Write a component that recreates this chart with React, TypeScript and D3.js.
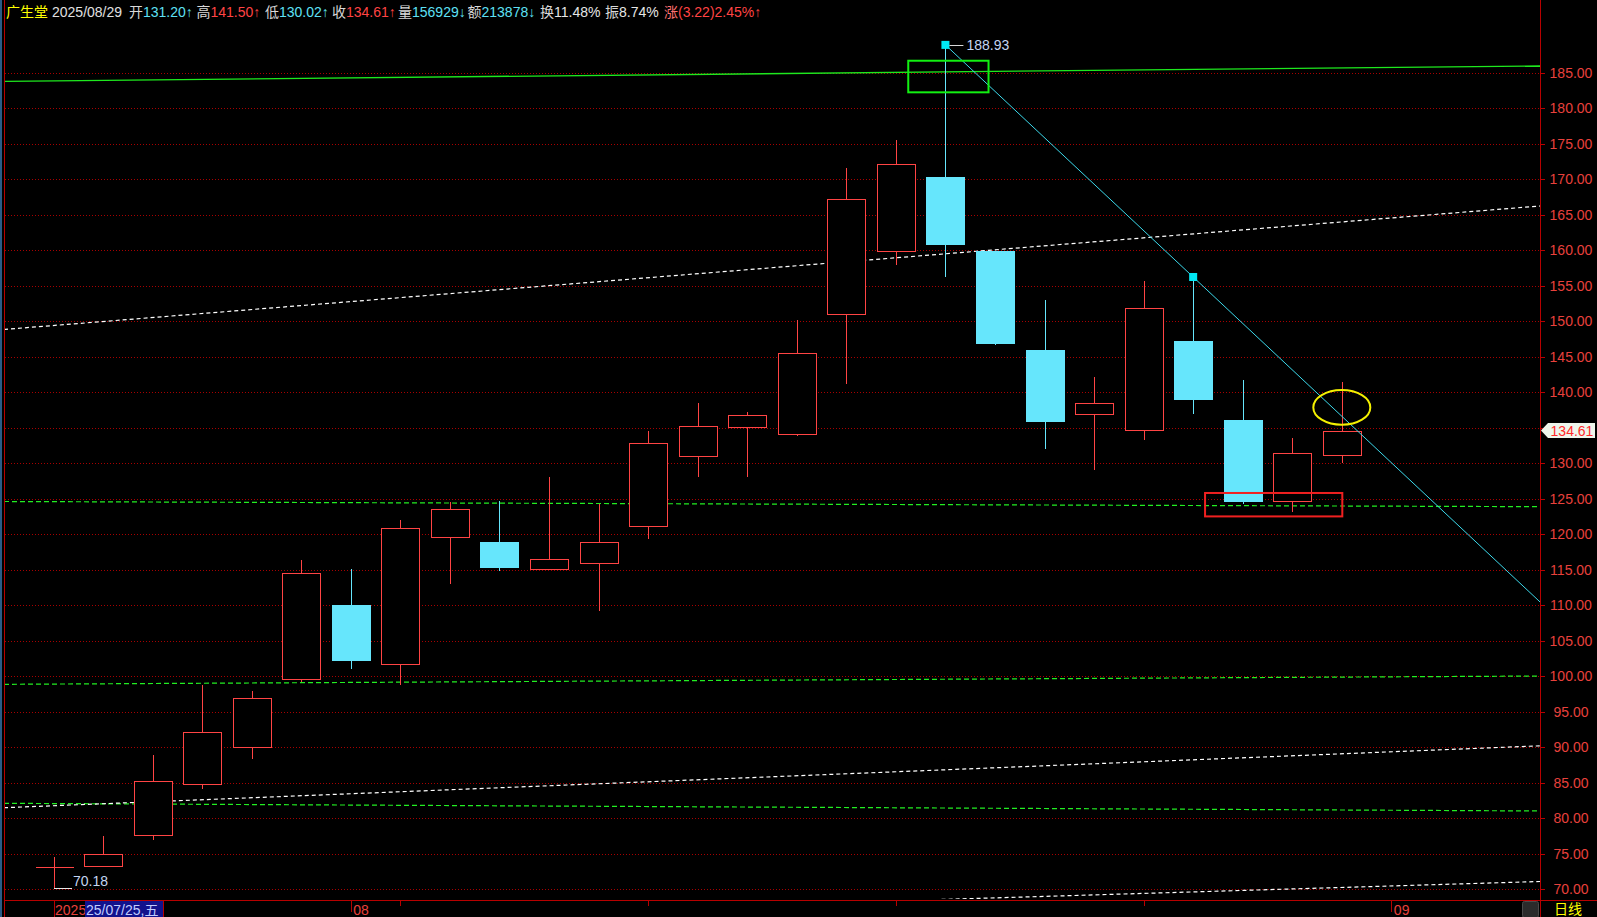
import React, { useEffect } from 'react';
import * as d3 from 'd3';

// ---- daily bars, 2025/07/24 .. 2025/08/29 ----
const dates = [
  '2025/07/24', '2025/07/25', '2025/07/28', '2025/07/29', '2025/07/30', '2025/07/31',
  '2025/08/01', '2025/08/04', '2025/08/05', '2025/08/06', '2025/08/07', '2025/08/08',
  '2025/08/11', '2025/08/12', '2025/08/13', '2025/08/14', '2025/08/15',
  '2025/08/18', '2025/08/19', '2025/08/20', '2025/08/21', '2025/08/22',
  '2025/08/25', '2025/08/26', '2025/08/27', '2025/08/28', '2025/08/29',
];
const opens = [
  73.1, 73.24, 77.61, 84.79, 90.08, 99.58,
  110.04, 101.69, 119.58, 118.92, 115.07, 116.0,
  121.13, 130.99, 135.07, 134.08, 150.99,
  159.86, 170.32, 159.9, 145.96, 136.99,
  134.65, 147.2, 136.15, 124.68, 131.2,
];
const highs = [
  74.55, 77.51, 88.92, 98.77, 97.93, 116.38,
  115.11, 122.01, 124.51, 124.69, 128.07, 124.23,
  134.55, 138.45, 137.18, 150.18, 171.59,
  175.54, 188.93, 159.9, 153.0, 142.15,
  155.68, 156.24, 141.75, 133.56, 141.5,
];
const lows = [
  70.18, 73.1, 76.99, 84.08, 88.39, 99.2,
  101.03, 98.77, 113.04, 114.87, 115.07, 109.24,
  119.38, 128.11, 128.11, 133.89, 141.13,
  157.97, 156.28, 146.7, 132.01, 129.06,
  133.28, 137.01, 124.27, 123.1, 130.02,
];
const closes = [
  73.1, 74.93, 85.21, 92.11, 96.9, 114.51,
  102.3, 120.85, 123.52, 115.39, 116.48, 118.87,
  132.82, 135.21, 136.76, 145.49, 167.18,
  172.11, 160.93, 146.99, 135.96, 138.49,
  151.83, 139.01, 124.68, 131.39, 134.61,
];

const stockName = '广生堂';
const lastVolume = 156929;
const lastAmount = 213878;
const lastTurnover = 11.48;

// price axis labels
const yTickValues = [70, 75, 80, 85, 90, 95, 100, 105, 110, 115, 120, 125, 130, 135, 140, 145, 150, 155, 160, 165, 170, 175, 180, 185];

// time axis: weekly ticks (bar index) and month labels
const weekTickIndex = [7, 12, 17, 22, 27];
const monthTickIndex = [6, 27];
const monthTickLabel = ['08', '09'];

// drawn lines, endpoints as [bar index, price]
const greenSolidLine = [[-1, 183.8], [30, 185.96]];
const greenDashedLines = [
  [[-1, 124.62], [30, 123.89]],
  [[-1, 98.87], [30, 100.04]],
  [[-1, 82.11], [30, 81.03]],
];
const whiteDashedLines = [
  [[-1, 148.85], [30, 166.24]],
  [[-1, 81.49], [30, 90.21]],
  [[-1, 64.6], [30, 71.1]],
];
// downtrend line through two swing highs
const trendAnchors = [[18, 188.93], [23, 156.24]];
// marked zones: [index0, price0, index1, price1]
const greenBox = [17.25, 186.7, 18.87, 182.25];
const redBox = [23.24, 125.82, 26.01, 122.52];
const yellowRing = [26, 137.87];

const W = 1597;
const H = 917;
const LEFT = 4;
const RIGHT = 1540;
const BOTTOM = 900;

const RED = '#ff4444';
const CYAN = '#66e6fc';
const GRID = '#a80000';
const AXIS = '#b80000';
const LABEL_RED = '#e8413c';
const FONT = "'Liberation Sans', Arial, 'Noto Sans CJK SC', sans-serif";
const CJK = "'Noto Sans CJK SC', 'Liberation Sans', sans-serif";

const x = d3.scaleLinear().domain([-1, 30]).range([LEFT, RIGHT]);
const y = d3.scaleLinear().domain([70, 185]).range([889.3, 72.8]);
const step = x(1) - x(0);
const bodyW = Math.round(step * 0.775);

const px = (v: number) => Math.round(v) + 0.5;
const f2 = (v: number) => v.toFixed(2);

export default function App() {
  useEffect(() => {
    document.body.style.margin = '0';
    document.body.style.background = '#000';
  }, []);

  const n = closes.length;
  const last = n - 1;
  const prevClose = closes[last - 1];
  const o = opens[last], h = highs[last], l = lows[last], c = closes[last];
  const chg = c - prevClose;
  const pct = (chg / prevClose) * 100;
  const amp = ((h - l) / prevClose) * 100;
  const vsPrev = (v: number) => (v >= prevClose ? RED : '#5ee0f5');
  const arrow = (a: number, b: number) => (a >= b ? '↑' : '↓');
  const LBL = '#d8d8d8';

  const header = [
    { parts: [{ t: stockName, c: '#ffff00' }] },
    { parts: [{ t: dates[last], c: '#e0e0e0' }] },
    { parts: [{ t: '开', c: LBL }, { t: f2(o) + arrow(o, opens[last - 1]), c: vsPrev(o) }] },
    { parts: [{ t: '高', c: LBL }, { t: f2(h) + arrow(h, highs[last - 1]), c: vsPrev(h) }] },
    { parts: [{ t: '低', c: LBL }, { t: f2(l) + arrow(l, lows[last - 1]), c: vsPrev(l) }] },
    { parts: [{ t: '收', c: LBL }, { t: f2(c) + arrow(c, prevClose), c: vsPrev(c) }] },
    { parts: [{ t: '量', c: LBL }, { t: lastVolume + '↓', c: '#5ee0f5' }] },
    { parts: [{ t: '额', c: LBL }, { t: lastAmount + '↓', c: '#5ee0f5' }] },
    { parts: [{ t: '换', c: LBL }, { t: lastTurnover.toFixed(2) + '%', c: '#e6e6e6' }] },
    { parts: [{ t: '振', c: LBL }, { t: amp.toFixed(2) + '%', c: '#e6e6e6' }] },
    { parts: [{ t: '涨', c: '#ff7070' }, { t: '(' + f2(chg) + ')' + pct.toFixed(2) + '%↑', c: RED }] },
  ];
  const headerX = [6, 52, 129, 196.5, 265, 332, 398, 467.5, 540, 605, 664];

  const lineOf = (seg: number[][]) => ({ x1: x(seg[0][0]), y1: y(seg[0][1]), x2: x(seg[1][0]), y2: y(seg[1][1]) });

  // trend line extended to the right edge of the plot
  const [ta, tb] = trendAnchors;
  const slope = (tb[1] - ta[1]) / (tb[0] - ta[0]);
  const endIdx = x.invert(RIGHT);
  const trendEnd = [endIdx, ta[1] + slope * (endIdx - ta[0])];

  const cursorIdx = 1;
  const cd = dates[cursorIdx].split('/');
  const wd = '日一二三四五六'[new Date(+cd[0], +cd[1] - 1, +cd[2]).getDay()];
  const cursorText = cd[0].slice(2) + '/' + cd[1] + '/' + cd[2] + ',' + wd;

  const yCur = y(c);

  return (
    <svg width={W} height={H} style={{ display: 'block', background: '#000' }} fontFamily={FONT}>
      <defs>
        <clipPath id="plot">
          <rect x={LEFT + 1} y={0} width={RIGHT - LEFT - 1} height={BOTTOM - 1} />
        </clipPath>
      </defs>
      <rect x={0} y={0} width={W} height={H} fill="#000" />
      <rect x={0} y={0} width={2} height={H} fill="#2a5a86" />

      {/* horizontal grid */}
      <g shapeRendering="crispEdges">
        {yTickValues.map((v) => (
          <line key={v} x1={LEFT + 1} x2={RIGHT} y1={px(y(v))} y2={px(y(v))} stroke={GRID} strokeDasharray="1,2" />
        ))}
      </g>

      <g clipPath="url(#plot)">
        {/* channel lines */}
        <line {...lineOf(greenSolidLine)} stroke="#1ee81e" strokeWidth={1.3} />
        {greenDashedLines.map((s, i) => (
          <line key={'g' + i} {...lineOf(s)} stroke="#22ee22" strokeWidth={1.2} strokeDasharray="5,3" />
        ))}
        {whiteDashedLines.map((s, i) => (
          <line key={'w' + i} {...lineOf(s)} stroke="#ffffff" strokeWidth={1.2} strokeDasharray="4,3" />
        ))}

        {/* candles */}
        <g shapeRendering="crispEdges">
          {closes.map((cl, i) => {
            const op = opens[i];
            const cx = px(x(i));
            const left = Math.round(x(i) - bodyW / 2) + 0.5;
            const top = Math.round(y(Math.max(op, cl))) + 0.5;
            const bot = Math.round(y(Math.min(op, cl))) + 0.5;
            const yh = y(highs[i]);
            const yl = y(lows[i]);
            if (cl === op) {
              return (
                <g key={i} stroke={RED}>
                  <line x1={cx} x2={cx} y1={yh} y2={yl} />
                  <line x1={left} x2={left + bodyW} y1={top} y2={top} />
                </g>
              );
            }
            if (cl > op) {
              return (
                <g key={i} stroke={RED}>
                  {yh < top && <line x1={cx} x2={cx} y1={yh} y2={top} />}
                  {yl > bot && <line x1={cx} x2={cx} y1={bot} y2={yl} />}
                  <rect x={left} y={top} width={bodyW} height={Math.max(1, bot - top)} fill="#000" />
                </g>
              );
            }
            return (
              <g key={i}>
                <line x1={cx} x2={cx} y1={yh} y2={yl} stroke={CYAN} />
                <rect x={left - 0.5} y={top - 0.5} width={bodyW + 1} height={Math.max(1, bot - top + 1)} fill={CYAN} />
              </g>
            );
          })}
        </g>

        {/* trend line and swing-high markers */}
        <line x1={x(ta[0])} y1={y(ta[1])} x2={x(trendEnd[0])} y2={y(trendEnd[1])} stroke="#3cd8ea" strokeWidth={1} />
        {trendAnchors.map((p, i) => (
          <rect key={'m' + i} x={x(p[0]) - 4} y={y(p[1]) - 4} width={8} height={8} fill="#00e8f4" />
        ))}

        {/* extreme price labels */}
        <line x1={x(18) + 4} x2={x(18) + 18} y1={px(y(highs[18]))} y2={px(y(highs[18]))} stroke="#d8d8d8" />
        <text x={x(18) + 21} y={y(highs[18]) + 5.5} fill="#c4d6f2" fontSize={14}>{f2(highs[18])}</text>
        <line x1={x(0)} x2={x(0) + 18} y1={px(y(lows[0]))} y2={px(y(lows[0]))} stroke="#e8e8e8" shapeRendering="crispEdges" />
        <text x={x(0) + 19.5} y={y(lows[0]) - 2.5} fill="#c4d6f2" fontSize={14}>{f2(lows[0])}</text>

        {/* marked zones */}
        <rect
          x={x(greenBox[0])} y={y(greenBox[1])}
          width={x(greenBox[2]) - x(greenBox[0])} height={y(greenBox[3]) - y(greenBox[1])}
          fill="none" stroke="#12f012" strokeWidth={2}
        />
        <rect
          x={x(redBox[0])} y={y(redBox[1])}
          width={x(redBox[2]) - x(redBox[0])} height={y(redBox[3]) - y(redBox[1])}
          fill="none" stroke="#f02020" strokeWidth={2}
        />
        <ellipse cx={x(yellowRing[0])} cy={y(yellowRing[1])} rx={28.5} ry={17.3} fill="none" stroke="#f4f000" strokeWidth={2} />
      </g>

      {/* frame */}
      <g shapeRendering="crispEdges" stroke={AXIS}>
        <line x1={LEFT + 0.5} x2={LEFT + 0.5} y1={0} y2={H} />
        <line x1={RIGHT + 0.5} x2={RIGHT + 0.5} y1={0} y2={H} />
        <line x1={LEFT} x2={W} y1={BOTTOM + 0.5} y2={BOTTOM + 0.5} />
      </g>

      {/* price axis */}
      <g>
        {yTickValues.map((v) => {
          const yy = px(y(v));
          const hidden = Math.abs(y(v) - yCur) < 13;
          return (
            <g key={v}>
              <line x1={RIGHT} x2={RIGHT + 5} y1={yy} y2={yy} stroke={AXIS} shapeRendering="crispEdges" />
              {!hidden && (
                <text x={1571} y={y(v) + 5} textAnchor="middle" fill={LABEL_RED} fontSize={14}>{f2(v)}</text>
              )}
            </g>
          );
        })}
        <path
          d={`M${RIGHT + 1},${yCur} L${RIGHT + 8},${yCur - 7.5} L${W - 2},${yCur - 7.5} L${W - 2},${yCur + 7.5} L${RIGHT + 8},${yCur + 7.5} Z`}
          fill="#eef6ec"
        />
        <text x={1572} y={yCur + 5} textAnchor="middle" fill="#ff2a2a" fontSize={14}>{f2(c)}</text>
      </g>

      {/* time axis */}
      <g shapeRendering="crispEdges" stroke={AXIS}>
        {weekTickIndex.map((i) => (
          <line key={'wt' + i} x1={px(x(i))} x2={px(x(i))} y1={BOTTOM} y2={BOTTOM + 6} />
        ))}
        {monthTickIndex.map((i) => (
          <line key={'mt' + i} x1={px(x(i))} x2={px(x(i))} y1={BOTTOM} y2={BOTTOM + 12} />
        ))}
        <line x1={px(x(0))} x2={px(x(0))} y1={BOTTOM} y2={H} />
      </g>
      {monthTickIndex.map((i, k) => (
        <text key={'ml' + i} x={x(i) + 2.5} y={BOTTOM + 14.5} fill={LABEL_RED} fontSize={14}>{monthTickLabel[k]}</text>
      ))}
      <text x={x(0) + 1.5} y={BOTTOM + 14.5} fill={LABEL_RED} fontSize={14}>{dates[0].slice(0, 4)}</text>
      <rect x={85} y={BOTTOM + 1} width={78} height={H - BOTTOM - 1} fill="#12128c" />
      <line x1={163.5} x2={163.5} y1={BOTTOM} y2={H} stroke={AXIS} shapeRendering="crispEdges" />
      <text x={86} y={BOTTOM + 14.5} fill="#c0ccff" fontSize={14}>{cursorText}</text>

      {/* period switch */}
      <rect x={1522.5} y={901.5} width={16} height={16} rx={2} fill="#2b2b2b" stroke="#4a4a4a" />
      <text x={1554} y={914} fill="#ffff00" fontSize={14} fontFamily={CJK}>日线</text>

      {/* quote header */}
      <g fontSize={14}>
        {header.map((item, i) => (
          <text key={i} x={headerX[i]} y={17}>
            {item.parts.map((p, k) => (
              <tspan key={k} fill={p.c}>{p.t}</tspan>
            ))}
          </text>
        ))}
      </g>
    </svg>
  );
}
